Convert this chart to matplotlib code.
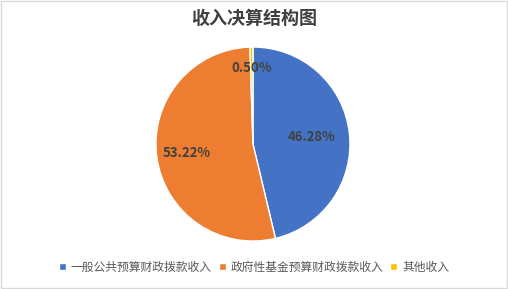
import matplotlib.pyplot as plt
import numpy as np
from matplotlib.patches import Rectangle

plt.rcParams['font.family'] = ['Noto Sans CJK SC', 'DejaVu Sans']

labels = ['一般公共预算财政拨款收入', '政府性基金预算财政拨款收入', '其他收入']
values = [46.28, 53.22, 0.50]
colors = ['#4472C4', '#ED7D31', '#FFC000']
label_dist = [0.61, 0.69, 0.78]

fig = plt.figure(figsize=(5.08, 2.89), dpi=100)
fig.patches.append(Rectangle((0.002, 0.003), 0.996, 0.994, transform=fig.transFigure,
                             fill=False, edgecolor='#D9D9D9', linewidth=1))

ax = fig.add_axes([0.307, 0.166, 194 / 508, 194 / 289])
wedges, _ = ax.pie(values, colors=colors, startangle=90, counterclock=False,
                   wedgeprops=dict(edgecolor='white', linewidth=1))
ax.set_xlim(-1, 1)
ax.set_ylim(-1, 1)
ax.set_aspect('equal')

for w, v, d in zip(wedges, values, label_dist):
    ang = np.deg2rad((w.theta1 + w.theta2) / 2)
    ax.text(d * np.cos(ang), d * np.sin(ang), '{:.2f}%'.format(v),
            ha='center', va='center', fontsize=9.5, fontweight='bold', color='#404040')

fig.text(0.5, 0.935, '收入决算结构图', ha='center', va='center',
         fontsize=13, fontweight='bold', color='#404040')

fig.legend(wedges, labels, loc='center', bbox_to_anchor=(0.5, 0.075), ncol=3,
           frameon=False, fontsize=8.5, handlelength=0.6, handleheight=0.6,
           handletextpad=0.4, columnspacing=0.6, labelcolor='#595959')

fig.savefig('out.png', dpi=100)
